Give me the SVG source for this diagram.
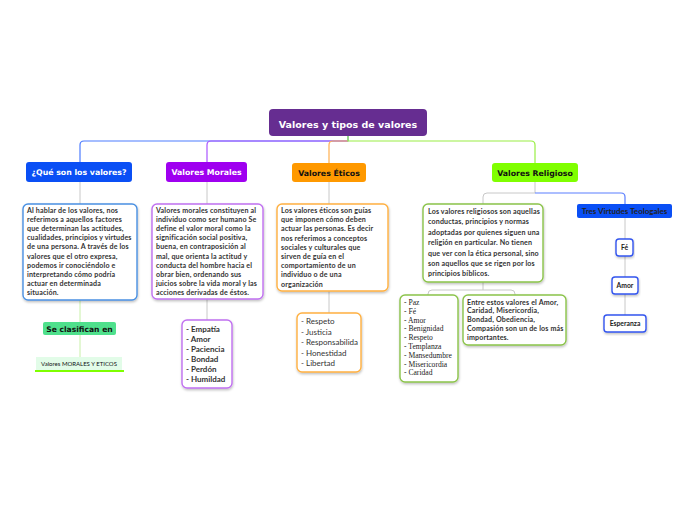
<svg xmlns="http://www.w3.org/2000/svg" width="696" height="520" viewBox="0 0 696 520">
<defs>
<filter id="sh" x="-10%" y="-10%" width="120%" height="130%">
<feDropShadow dx="0.5" dy="1.5" stdDeviation="1" flood-color="#000" flood-opacity="0.25"/>
</filter>
<style>
.title{font-family:"DejaVu Sans",Verdana,sans-serif;font-weight:bold;text-anchor:middle}
.txt{font-family:Lato,"Liberation Sans",sans-serif;font-weight:bold;font-size:7.1px;letter-spacing:0.15px;fill:#333}
.lst{font-family:Lato,"Liberation Sans",sans-serif;font-weight:bold;font-size:8px;fill:#333}
.ser{font-family:"Liberation Serif","Times New Roman",serif;font-size:7.6px;fill:#222}
.box{fill:#fff;stroke-width:1.4;filter:url(#sh)}
.g{fill:none;stroke:#c8c8c8;stroke-width:1}
.c{fill:none;stroke-width:1.2}
.sm{font-family:Lato,"Liberation Sans",sans-serif;font-weight:bold;text-anchor:middle;fill:#222}
</style>
</defs>
<rect width="696" height="520" fill="#fff"/>
<g id="connectors">
<path class="c" stroke="#4d7cff" d="M348,136 V141 H84 Q80,141 80,145 V162"/>
<path class="c" stroke="#aa55ff" d="M348,141 H211 Q207,141 207,145 V162"/>
<path class="c" stroke="#ffb050" d="M348,141 H333 Q329,141 329,145 V163"/>
<path class="c" stroke="#99ee44" d="M348,136 V141 H531 Q535,141 535,145 V163"/>
<path class="g" d="M80,182 V204"/>
<path class="g" style="stroke:#c8f0a8" d="M80,300 V322 M80,335 V357"/>
<path class="g" d="M207,182 V204 M207,299 V320"/>
<path class="g" d="M329,182 V204 M329,291 V313"/>
<path class="g" d="M535,182 V193 H487 Q483,193 483,197 V204"/>
<path class="c" stroke="#5b7fff" d="M535,193 H621 Q625,193 625,197 V204"/>
<path class="g" d="M483,282 V290 H432 Q428,290 428,294 V295 M483,290 H511 Q515,290 515,294 V295"/>
<path class="g" d="M625,218 V239 M625,256 V277 M625,294 V315"/>
</g>
<g id="root">
<rect x="269" y="109" width="158" height="27" rx="4" fill="#662d91"/>
<text class="title" x="348" y="127.5" font-size="9.5" fill="#fff">Valores y tipos de valores</text>
</g>
<g id="que-son">
<rect x="26" y="162" width="106" height="20" rx="3" fill="#0a4ff5"/>
<text class="title" x="79" y="175" font-size="7.8" fill="#fff">¿Qué son los valores?</text>
</g>
<g id="morales">
<rect x="166" y="162" width="81" height="20" rx="3" fill="#9f00f0"/>
<text class="title" x="206.5" y="175" font-size="7.8" fill="#fff">Valores Morales</text>
</g>
<g id="eticos">
<rect x="292" y="163" width="74" height="19" rx="3" fill="#ff9900"/>
<text class="title" x="329" y="175.5" font-size="7.8" fill="#111">Valores Éticos</text>
</g>
<g id="religioso">
<rect x="492" y="163" width="86" height="19" rx="3" fill="#80ff00"/>
<text class="title" x="535" y="175.5" font-size="7.8" fill="#111">Valores Religioso</text>
</g>
<g id="desc-valores">
<rect class="box" x="23" y="204" width="114" height="96" rx="5" stroke="#4a90e2"/>
<text class="txt">
<tspan x="27" y="212.5">Al hablar de los valores, nos</tspan>
<tspan x="27" y="221.7">referimos a aquellos factores</tspan>
<tspan x="27" y="230.9">que determinan las actitudes,</tspan>
<tspan x="27" y="240.1">cualidades, principios y virtudes</tspan>
<tspan x="27" y="249.3">de una persona. A través de los</tspan>
<tspan x="27" y="258.5">valores que el otro expresa,</tspan>
<tspan x="27" y="267.7">podemos ir conociéndolo e</tspan>
<tspan x="27" y="276.9">interpretando cómo podría</tspan>
<tspan x="27" y="286.1">actuar en determinada</tspan>
<tspan x="27" y="295.3">situación.</tspan>
</text>
</g>
<g id="se-clasifican">
<rect x="43" y="322" width="73" height="13" rx="2" fill="#4fe08c"/>
<text class="title" x="79.5" y="331.5" font-size="7.6" fill="#111">Se clasifican en</text>
</g>
<g id="morales-eticos">
<rect x="36" y="357" width="86" height="13" fill="#e2fce8"/>
<rect x="35" y="370" width="89" height="2" fill="#7fff00"/>
<text x="79" y="366" text-anchor="middle" font-family="Lato,'Liberation Sans',sans-serif" font-size="6" fill="#111">Valores MORALES Y ETICOS</text>
</g>
<g id="desc-morales">
<rect class="box" x="152" y="204" width="111" height="95" rx="5" stroke="#c070f0"/>
<text class="txt">
<tspan x="156" y="212.5">Valores morales constituyen al</tspan>
<tspan x="156" y="221.7">individuo como ser humano Se</tspan>
<tspan x="156" y="230.9">define el valor moral como la</tspan>
<tspan x="156" y="240.1">significación social positiva,</tspan>
<tspan x="156" y="249.3">buena, en contraposición al</tspan>
<tspan x="156" y="258.5">mal, que orienta la actitud y</tspan>
<tspan x="156" y="267.7">conducta del hombre hacia el</tspan>
<tspan x="156" y="276.9">obrar bien, ordenando sus</tspan>
<tspan x="156" y="286.1">juicios sobre la vida moral y las</tspan>
<tspan x="156" y="295.3">acciones derivadas de éstos.</tspan>
</text>
</g>
<g id="lista-morales">
<rect class="box" x="182" y="320" width="50" height="68" rx="5" stroke="#c070f0"/>
<text class="lst">
<tspan x="186" y="332">- Empatía</tspan>
<tspan x="186" y="342">- Amor</tspan>
<tspan x="186" y="352">- Paciencia</tspan>
<tspan x="186" y="362">- Bondad</tspan>
<tspan x="186" y="372">- Perdón</tspan>
<tspan x="186" y="382">- Humildad</tspan>
</text>
</g>
<g id="desc-eticos">
<rect class="box" x="277" y="204" width="111" height="87" rx="5" stroke="#ffb040"/>
<text class="txt">
<tspan x="281" y="213">Los valores éticos son guías</tspan>
<tspan x="281" y="222.2">que imponen cómo deben</tspan>
<tspan x="281" y="231.4">actuar las personas. Es decir</tspan>
<tspan x="281" y="240.6">nos referimos a conceptos</tspan>
<tspan x="281" y="249.8">sociales y culturales que</tspan>
<tspan x="281" y="259">sirven de guía en el</tspan>
<tspan x="281" y="268.2">comportamiento de un</tspan>
<tspan x="281" y="277.4">individuo o de una</tspan>
<tspan x="281" y="286.6">organización</tspan>
</text>
</g>
<g id="lista-eticos">
<rect class="box" x="297" y="313" width="64" height="59" rx="5" stroke="#ffb040"/>
<text class="lst" style="font-weight:normal;font-size:8px">
<tspan x="301" y="324">- Respeto</tspan>
<tspan x="301" y="334.5">- Justicia</tspan>
<tspan x="301" y="345">- Responsabilida</tspan>
<tspan x="301" y="355.5">- Honestidad</tspan>
<tspan x="301" y="366">- Libertad</tspan>
</text>
</g>
<g id="desc-religioso">
<rect class="box" x="423" y="204" width="120" height="78" rx="5" stroke="#8bc34a"/>
<text class="txt">
<tspan x="428" y="214">Los valores religiosos son aquellas</tspan>
<tspan x="428" y="224.4">conductas, principios y normas</tspan>
<tspan x="428" y="234.8">adoptadas por quienes siguen una</tspan>
<tspan x="428" y="245.2">religión en particular. No tienen</tspan>
<tspan x="428" y="255.6">que ver con la ética personal, sino</tspan>
<tspan x="428" y="266">son aquellos que se rigen por los</tspan>
<tspan x="428" y="276.4">principios bíblicos.</tspan>
</text>
</g>
<g id="lista-religioso">
<rect class="box" x="400" y="295" width="58" height="87" rx="5" stroke="#8bc34a"/>
<text class="ser">
<tspan x="404" y="305">- Paz</tspan>
<tspan x="404" y="313.8">- Fé</tspan>
<tspan x="404" y="322.6">- Amor</tspan>
<tspan x="404" y="331.4">- Benignidad</tspan>
<tspan x="404" y="340.2">- Respeto</tspan>
<tspan x="404" y="349">- Templanza</tspan>
<tspan x="404" y="357.8">- Mansedumbre</tspan>
<tspan x="404" y="366.6">- Misericordia</tspan>
<tspan x="404" y="375.4">- Caridad</tspan>
</text>
</g>
<g id="entre-estos">
<rect class="box" x="463" y="295" width="103" height="50" rx="5" stroke="#8bc34a"/>
<text class="txt">
<tspan x="467" y="304.5">Entre estos valores el Amor,</tspan>
<tspan x="467" y="313.3">Caridad, Misericordia,</tspan>
<tspan x="467" y="322.1">Bondad, Obediencia,</tspan>
<tspan x="467" y="330.9">Compasión son un de los más</tspan>
<tspan x="467" y="339.7">importantes.</tspan>
</text>
</g>
<g id="tres-virtudes">
<rect x="577" y="204" width="95" height="14" rx="2" fill="#0a4ff5"/>
<text class="sm" x="624.5" y="214" font-size="8" fill="#111">Tres Virtudes Teologales</text>
</g>
<g id="fe">
<rect class="box" x="616" y="239" width="17" height="17" rx="3" stroke="#3355ee"/>
<text class="sm" x="624.5" y="250" font-size="6.8">Fé</text>
</g>
<g id="amor">
<rect class="box" x="612" y="277" width="26" height="17" rx="3" stroke="#3355ee"/>
<text class="sm" x="625" y="288" font-size="6.8">Amor</text>
</g>
<g id="esperanza">
<rect class="box" x="604" y="315" width="42" height="17" rx="3" stroke="#3355ee"/>
<text class="sm" x="625" y="326" font-size="6.8">Esperanza</text>
</g>
</svg>
